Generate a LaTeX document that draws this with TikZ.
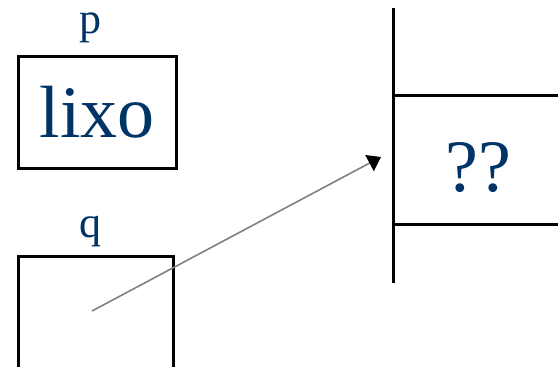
\documentclass[tikz,border=0pt]{standalone}
\usepackage{fontspec}
\setmainfont{Liberation Serif}
\usetikzlibrary{arrows.meta}

\definecolor{ink}{HTML}{003366}

\tikzset{
	var/.style={draw, line width=3pt, inner sep=0pt},
	wall/.style={line width=3pt},
	name label/.style={text=ink, font=\fontsize{44}{44}\selectfont, anchor=base},
	content/.style={text=ink, font=\fontsize{74}{74}\selectfont},
	pointer/.style={gray, line width=1.6pt, -{Triangle[black, length=13pt, width=18pt]}}
}

\begin{document}
\begin{tikzpicture}[x=1pt, y=-1pt]
		\useasboundingbox (0, 0) rectangle (558, 367);

		% variables p and q
		\node [name label]	(plabel) at (90, 33) {p};
		\node [var, content, minimum width=158pt, minimum height=112pt]	(pbox) at (97, 112) {lixo};

		\node [name label]	(qlabel) at (90, 237) {q};
		\node [var, minimum width=155pt, minimum height=164pt]	(qbox) at (95.5, 338) {};

		% memory column
		\draw [wall]	(393, 8) to (393, 283);
		\draw [wall]	(393, 95) to (560, 95);
		\draw [wall]	(393, 224) to (560, 224);
		\node [content]	(cell) at (478, 168) {??};

		% pointer from q into memory
		\coordinate (qptr) at (92, 311);
		\coordinate (target) at (381, 157);
		\draw [pointer]	(qptr) to (target);
\end{tikzpicture}
\end{document}
